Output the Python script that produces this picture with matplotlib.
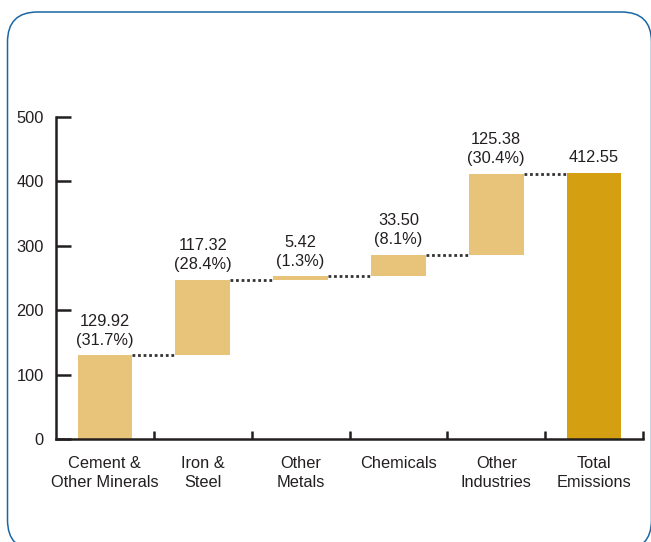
import matplotlib
matplotlib.use("Agg")
import matplotlib.pyplot as plt
from matplotlib.patches import FancyBboxPatch
import numpy as np

plt.rcParams['font.family'] = ['Liberation Sans', 'DejaVu Sans']

categories = ["Cement &\nOther Minerals", "Iron &\nSteel", "Other\nMetals",
              "Chemicals", "Other\nIndustries", "Total\nEmissions"]
values = [129.92, 117.32, 5.42, 33.50, 125.38]
shares = ["31.7%", "28.4%", "1.3%", "8.1%", "30.4%"]
total = 412.55
yticks = [0, 100, 200, 300, 400, 500]

light = "#E8C47A"
dark = "#D4A012"
ink = "#231F20"
fs = 11.8

fig = plt.figure(figsize=(6.51, 5.42), dpi=100)
ax = fig.add_axes([56/651, 103/542, (643-56)/651, (439-117)/542])

bw = 0.56
bottoms = np.concatenate([[0], np.cumsum(values)[:-1]])
tops = bottoms + np.array(values)
x = np.arange(len(values))
ax.bar(x, values, bottom=bottoms, width=bw, color=light, zorder=2)
ax.bar([len(values)], [total], width=bw, color=dark, zorder=2)

# connectors
for i, lv in enumerate(tops):
    ax.plot([i + bw/2, i + 1 - bw/2], [lv, lv], color="#333333", lw=2.0,
            linestyle=(0, (1, 1)), solid_capstyle='butt', dash_capstyle='butt', zorder=3)

# labels
for i, (v, s) in enumerate(zip(values, shares)):
    ax.annotate(f"{v:.2f}\n({s})", (i, tops[i]), xytext=(0, 5.5), textcoords='offset points',
                ha='center', va='bottom', fontsize=fs, color=ink, linespacing=1.32)
ax.annotate(f"{total:.2f}", (len(values), total), xytext=(0, 6), textcoords='offset points',
            ha='center', va='bottom', fontsize=fs, color=ink)

ax.set_xlim(-0.5, len(categories) - 0.5)
ax.set_ylim(0, 500)
ax.set_yticks(yticks)
ax.set_xticks(np.arange(len(categories)))
ax.set_xticklabels(categories)
ax.set_xticks(np.arange(len(categories)) + 0.5, minor=True)

for side in ['top', 'right']:
    ax.spines[side].set_visible(False)
for side in ['left', 'bottom']:
    ax.spines[side].set_linewidth(1.8)
    ax.spines[side].set_color(ink)
    ax.spines[side].set_capstyle('projecting')

ax.tick_params(axis='y', direction='in', length=11, width=1.8, color=ink,
               labelsize=fs, labelcolor=ink, pad=9)
ax.tick_params(axis='x', which='major', length=0, labelsize=fs, labelcolor=ink, pad=12)
ax.tick_params(axis='x', which='minor', direction='in', length=5.5, width=1.8, color=ink)
for t in ax.get_xticklabels():
    t.set_linespacing(1.32)

# rounded border
border = FancyBboxPatch((0.075, -0.08), 6.44, 5.42 - 0.12 + 0.08,
                        boxstyle="round,pad=0,rounding_size=0.30",
                        transform=fig.dpi_scale_trans, fill=False,
                        edgecolor="#1A66A5", linewidth=1.1, clip_on=False)
fig.patches.append(border)

fig.savefig("out.png", dpi=100)
